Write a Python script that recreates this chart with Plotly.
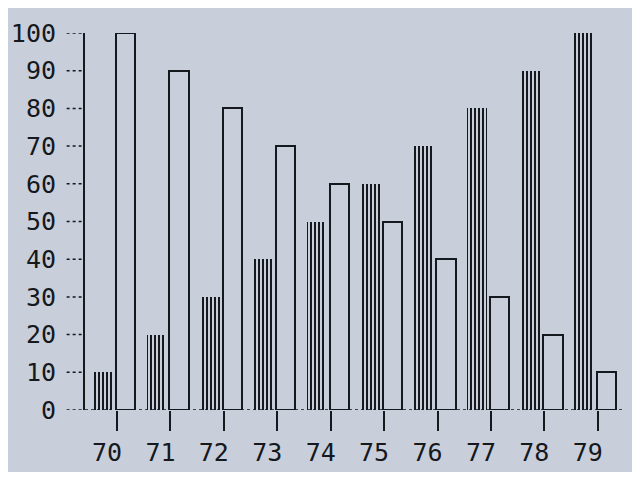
import plotly.graph_objects as go

# Years along the bottom, two series per year
years = [70, 71, 72, 73, 74, 75, 76, 77, 78, 79]
striped_values = [10, 20, 30, 40, 50, 60, 70, 80, 90, 100]
hollow_values = [100, 90, 80, 70, 60, 50, 40, 30, 20, 10]
y_ticks = [0, 10, 20, 30, 40, 50, 60, 70, 80, 90, 100]

bg = "#c8cfdb"
ink = "#15181d"
font = dict(family="DejaVu Sans Mono", size=25, color=ink)

# Striped bars (vertical line fill)
striped = go.Bar(
    x=years,
    y=striped_values,
    width=0.36,
    offset=-0.44,
    marker=dict(
        color=bg,
        line=dict(width=0),
        pattern=dict(shape="|", fgcolor=ink, bgcolor=bg, size=4, solidity=0.5,
                     fgopacity=1),
    ),
    showlegend=False,
)

# Hollow bars (outline only)
hollow = go.Bar(
    x=years,
    y=hollow_values,
    width=0.36,
    offset=-0.02,
    marker=dict(color="rgba(0,0,0,0)", line=dict(color=ink, width=2)),
    showlegend=False,
)

fig = go.Figure(data=[striped, hollow])

# Dotted tick marks next to the y labels, and the dotted baseline
shapes = []
for v in y_ticks:
    shapes.append(dict(type="line", xref="paper", yref="y",
                       x0=-0.034, x1=0, y0=v, y1=v,
                       line=dict(color=ink, width=1.5, dash="dot")))
shapes.append(dict(type="line", xref="paper", yref="y",
                   x0=0, x1=1, y0=0, y1=0,
                   line=dict(color=ink, width=1.5, dash="dot")))

# figure sized so the page (with its 8px body margin) fits the window
fig.update_layout(
    width=624,
    height=464,
    paper_bgcolor=bg,
    plot_bgcolor=bg,
    margin=dict(l=77, r=7, t=25, b=62),
    font=font,
    bargap=0,
    shapes=shapes,
    xaxis=dict(
        range=[69.4, 79.51],
        tickmode="array",
        tickvals=years,
        ticktext=[str(y) for y in years],
        ticks="outside",
        ticklen=20,
        tickwidth=2,
        tickcolor=ink,
        ticklabelshift=-10,
        showgrid=False,
        zeroline=False,
        showline=False,
        tickfont=font,
        automargin=False,
    ),
    yaxis=dict(
        range=[0, 100],
        tickmode="array",
        tickvals=y_ticks,
        ticks="",
        ticklabelstandoff=22,
        showgrid=False,
        zeroline=False,
        showline=True,
        linecolor=ink,
        linewidth=2,
        tickfont=font,
        automargin=False,
    ),
)

fig.write_html("out.html")
